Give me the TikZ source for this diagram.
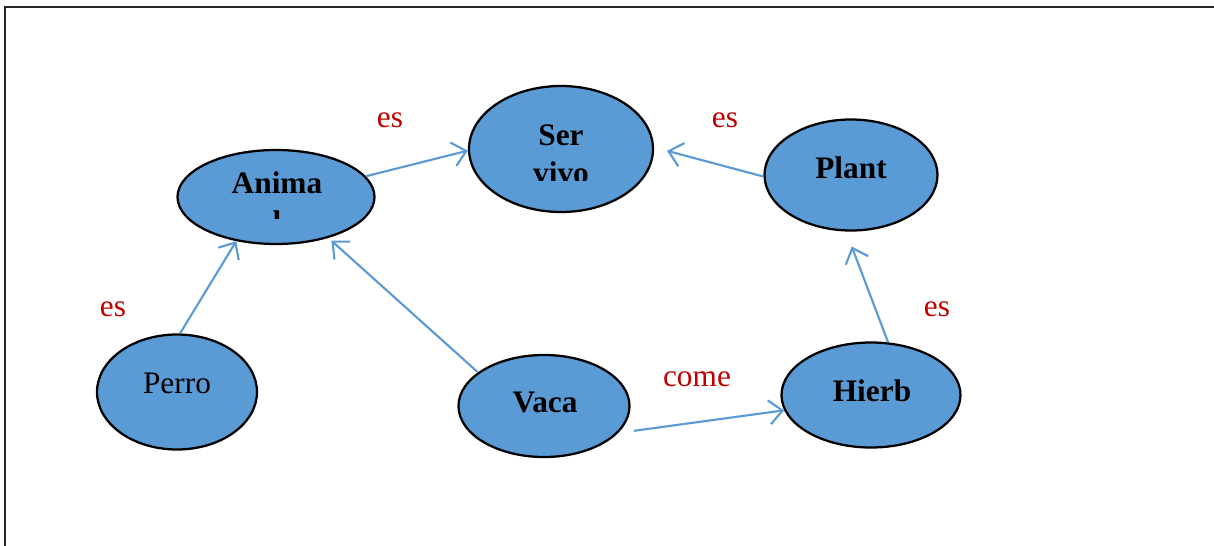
\documentclass[tikz,border=0pt]{standalone}
\usepackage{fontspec}
\setmainfont{Liberation Serif}
\usepackage{xcolor}
\usetikzlibrary{positioning,arrows.meta,shapes.geometric}
\definecolor{nodeblue}{HTML}{5B9BD5}
\definecolor{labred}{HTML}{C00000}

\begin{document}
\begin{tikzpicture}[x=0.75pt, y={(0pt,-0.75pt)}, font=\fontsize{23.5}{27}\selectfont,
		concept/.style={ellipse, draw=black, line width=1.7pt, fill=nodeblue, inner sep=0pt},
		word/.style={anchor=base, inner sep=0pt, font=\fontsize{23.5}{27}\selectfont\bfseries},
		rel/.style={anchor=base, inner sep=0pt, text=labred},
		arr/.style={draw=nodeblue, line width=1.6pt, -{Straight Barb[length=10pt, width=18pt, line width=1.6pt]}}]
		\useasboundingbox (0,0) rectangle (1214,546);
		\draw[line width=1.5pt, black!85] (5,580) |- (1240,7);
		\node[concept, minimum width=147.75pt, minimum height=70.5pt] (animal) at (276,197) {};
		\node[concept, minimum width=138pt, minimum height=94.5pt] (servivo) at (561,149) {};
		\node[concept, minimum width=129.75pt, minimum height=83.25pt] (plant) at (851,175) {};
		\node[concept, minimum width=120pt, minimum height=86.25pt] (perro) at (177,392) {};
		\node[concept, minimum width=128.25pt, minimum height=76.5pt] (vaca) at (544,406) {};
		\node[concept, minimum width=134.25pt, minimum height=78.75pt] (hierb) at (871,395) {};
		\node[word] (animaltxt) at (277,193) {Anima};
		\begin{scope}
			\clip (230,150) rectangle (330,218);
			\node[word] (animaltxt2) at (277,232) {l};
		\end{scope}
		\node[word] (servivotxt) at (561,145) {Ser};
		\begin{scope}
			\clip (500,150) rectangle (620,180);
			\node[word] (servivotxt2) at (561,183) {vivo};
		\end{scope}
		\node[word] (planttxt) at (851,178) {Plant};
		\node[word] (hierbtxt) at (872,401) {Hierb};
		\node[word] (vacatxt) at (545,412) {Vaca};
		\node[anchor=base, inner sep=0pt] (perrotxt) at (177,393) {Perro};
		\draw[arr] (animal.13) -- (servivo.181);
		\draw[arr, shorten >=10pt] (plant.181) -- (servivo.1);
		\draw[arr] (perro.87) -- (animal.228);
		\draw[arr, shorten >=3pt] (vaca.153) -- (animal.-38);
		\draw[arr, shorten >=12pt] (hierb.72) -- (plant.265);
		\draw[arr, shorten <=12pt] (vaca.-20) -- (hierb.190);
		\node[rel] (es1) at (390,127) {es};
		\node[rel] (es2) at (725,127) {es};
		\node[rel] (es3) at (113,316) {es};
		\node[rel] (es4) at (937,316) {es};
		\node[rel] (come) at (697,386) {come};
	\end{tikzpicture}
\end{document}
